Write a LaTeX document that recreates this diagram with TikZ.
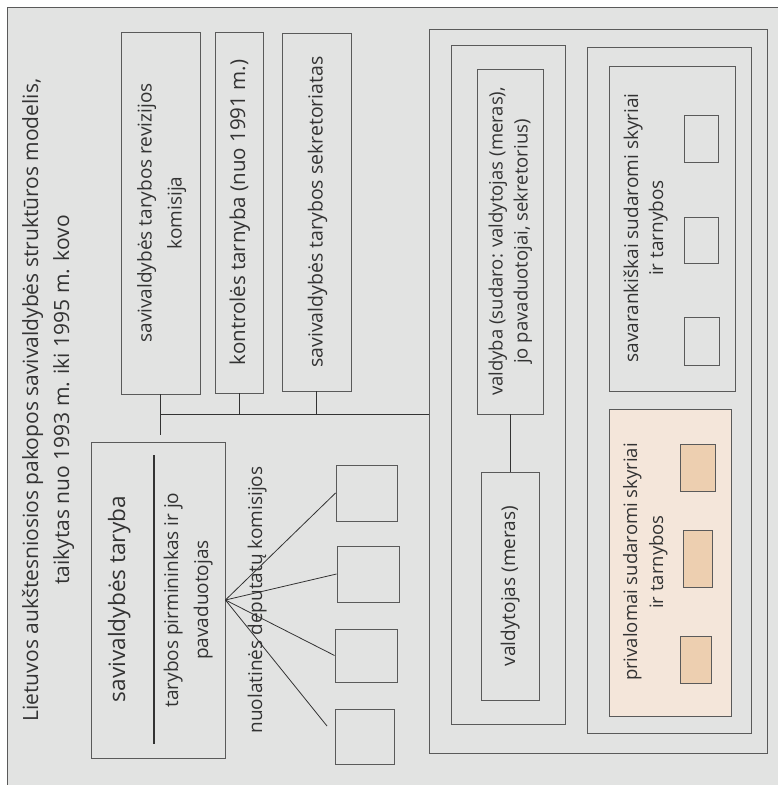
\documentclass[tikz,border=0pt]{standalone}
\usepackage{fontspec}
\setmainfont{Open Sans}
\usetikzlibrary{arrows.meta}
\definecolor{bg}{HTML}{E2E3E2}
\definecolor{ln}{HTML}{5A5A5A}
\definecolor{dk}{HTML}{333333}
\definecolor{peach}{HTML}{F4E6DA}
\definecolor{peachd}{HTML}{EDCFB0}
\newcommand{\rtext}[3]{\rotatebox{90}{\fontsize{#1}{#2}\selectfont\begin{tabular}{@{}c@{}}#3\end{tabular}}}
\tikzset{
  bx/.style={draw=ln, line width=0.9pt, inner sep=0pt, text=dk},
  conn/.style={draw=dk, line width=0.8pt},
  blockarrow/.style={draw=none, line width=14pt, dk, -{Triangle[length=14pt,width=29pt]}},
  lbl/.style={inner sep=0pt, text=dk}
}
% \mkbox{name}{x1}{y1}{x2}{y2}{options}{text}
\newcommand{\mkbox}[7]{\node[bx,#6,minimum width={(#4-#2)*1pt},minimum height={(#5-#3)*1pt}] (#1) at ({(#2+#4)/2},{(#3+#5)/2}) {#7};}
\begin{document}
\begin{tikzpicture}[x=1pt,y=-1pt]
\useasboundingbox (0,0) rectangle (778,785);
\fill[white] (0,0) rectangle (778,785);
\fill[bg] (7,7) rectangle (778,785);
\draw[ln, line width=1pt] (7,785) -- (7,7) -- (778,7);

% title
\node[lbl] (title) at (47.5,400) {\rtext{21}{31}{Lietuvos aukštesniosios pakopos savivaldybės struktūros modelis,\\taikytas nuo 1993 m. iki 1995 m. kovo}};

% top boxes
\mkbox{rev}{121}{32}{200}{394}{}{\rtext{19}{30}{savivaldybės tarybos revizijos\\komisija}}
\mkbox{kontr}{215}{32}{263}{393}{}{\rtext{20.5}{30}{kontrolės tarnyba (nuo 1991 m.)}}
\mkbox{sekr}{282}{33}{351}{391}{}{\rtext{19.5}{30}{savivaldybės tarybos sekretoriatas}}

% taryba
\mkbox{taryba}{91}{442}{225}{758}{}{}
\node[lbl] (tarybaT) at (119,599) {\rtext{22.6}{30}{savivaldybės taryba}};
\node[lbl] (tarybaP) at (187,600) {\rtext{19}{30}{tarybos pirmininkas ir jo\\pavaduotojas}};
\coordinate (divTop) at (154,455);
\coordinate (divBot) at (154,744);
\draw[dk, line width=2pt] (divTop) -- (divBot);

% commissions
\node[lbl] (nuol) at (256,600) {\rtext{19}{30}{nuolatinės deputatų komisijos}};
\mkbox{k1}{336}{465}{397}{521}{}{}
\mkbox{k2}{337}{546}{399}{602}{}{}
\mkbox{k3}{335}{629}{397}{682}{}{}
\mkbox{k4}{335}{709}{394}{764}{}{}
\coordinate (k4end) at (327,726);
\draw[conn] (taryba.east) -- (k1.west);
\draw[conn] (taryba.east) -- (k2.west);
\draw[conn] (taryba.east) -- (k3.west);
\draw[conn] (taryba.east) -- (k4end);

% right part
\mkbox{outer}{429}{29}{767}{753}{}{}
\mkbox{vcont}{451}{45}{565}{724}{}{}
\mkbox{valdyba}{477}{69}{543}{414}{}{\rtext{18.5}{25}{valdyba (sudaro: valdytojas (meras),\\jo pavaduotojai, sekretorius)}}
\mkbox{valdytojas}{481}{472}{539}{700}{}{\rtext{19}{25}{valdytojas (meras)}}
\draw[conn] (valdyba.south) -- (valdytojas.north);

\mkbox{rcont}{587}{47}{751}{733}{}{}
\mkbox{sav}{609}{66}{735}{391}{}{}
\node[lbl] (savT) at (645.5,228) {\rtext{19}{25}{savarankiškai sudaromi skyriai\\ir tarnybos}};
\mkbox{s1}{684}{115}{718}{162}{}{}
\mkbox{s2}{684}{217}{718}{263}{}{}
\mkbox{s3}{684}{317}{719}{365}{}{}

\mkbox{priv}{609}{409}{731}{716}{fill=peach}{}
\node[lbl] (privT) at (645,562) {\rtext{18.5}{26}{privalomai sudaromi skyriai\\ir tarnybos}};
\mkbox{p1}{680}{444}{715}{491}{fill=peachd}{}
\mkbox{p2}{683}{530}{712}{587}{fill=peachd}{}
\mkbox{p3}{680}{636}{711}{683}{fill=peachd}{}

% block arrows
\draw[blockarrow] (vcont.east |- 0,276) -- (593,276);
\draw[blockarrow] (vcont.east |- 0,591) -- (591,591);

% connectors from top boxes
\coordinate (stubEnd) at (157,435);
\draw[conn] (rev.south) -- (rev.south |- stubEnd);
\draw[conn] (rev.south |- 0,414) -- (outer.west |- 0,414);
\draw[conn] (kontr.south) -- (kontr.south |- 0,414);
\draw[conn] (sekr.south) -- (sekr.south |- 0,414);
\end{tikzpicture}
\end{document}
